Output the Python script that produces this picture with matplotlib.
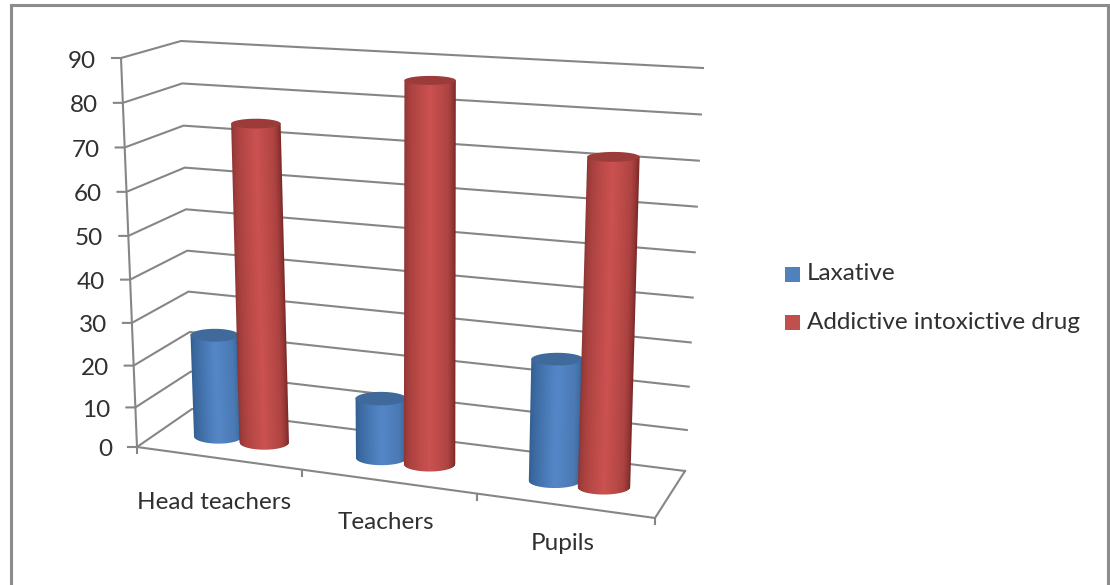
import matplotlib
matplotlib.use("Agg")
import matplotlib.pyplot as plt
from matplotlib.colors import LinearSegmentedColormap
import numpy as np

categories = ["Head teachers", "Teachers", "Pupils"]
series_names = ["Laxative", "Addictive intoxictive drug"]
laxative = [25, 14.5, 28]
addictive = [74.7, 86.5, 72.5]
y_ticks = [0, 10, 20, 30, 40, 50, 60, 70, 80, 90]

# screen position of the plot box corners (front/back, left/right, floor/top)
FLOOR_FL = np.array([137., 447.])
FLOOR_FR = np.array([655., 518.])
FLOOR_BL = np.array([192., 409.])
FLOOR_BR = np.array([685., 471.])
TOP_FL = np.array([121., 58.])
TOP_FR = np.array([675., 85.])
TOP_BL = np.array([181., 41.])
TOP_BR = np.array([703., 68.])
Y_MAX = 90.
GROUP_U = [0.166, 0.493, 0.829]

GRID = "#868686"
TEXT = "#303030"
FONT = "Lato"


def project(u, v, value):
    # trilinear map of the box to the screen, u and z warped a bit for perspective
    u = np.clip(u, 0, None) ** 1.04
    z = (value / Y_MAX) ** 1.04
    floor = (1-v)*((1-u)*FLOOR_FL + u*FLOOR_FR) + v*((1-u)*FLOOR_BL + u*FLOOR_BR)
    top = (1-v)*((1-u)*TOP_FL + u*TOP_FR) + v*((1-u)*TOP_BL + u*TOP_BR)
    return (1-z)*floor + z*top


fig = plt.figure(figsize=(11.1, 5.85), dpi=100)
ax = fig.add_axes([0, 0, 1, 1])
ax.axis("off")

# outer frame, runs off the bottom of the picture
ax.plot([11, 11, 1108, 1108], [590, 5, 5, 590], color="#8c8c8c", lw=2.2, solid_joinstyle="miter")

# walls
for val in y_ticks:
    a = project(0, 0, val)
    b = project(0, 1, val)
    c = project(1, 1, val)
    ax.plot([a[0]-9, a[0], b[0], c[0]], [a[1], a[1], b[1], c[1]], color=GRID, lw=1.5)
    ax.text(a[0]-25, a[1]+1, str(val), ha="right", va="center_baseline", fontsize=17.5, color=TEXT, family=FONT)

a = project(0, 0, 0)
b = project(0, 0, Y_MAX)
ax.plot([a[0], b[0]], [a[1], b[1]], color=GRID, lw=1.5)

# floor front and side edges, category ticks
a = project(0, 0, 0)
b = project(1, 0, 0)
c = project(1, 1, 0)
ax.plot([a[0], b[0], c[0]], [a[1], b[1], c[1]], color=GRID, lw=1.5)
for i in range(len(categories)+1):
    p = project(i/len(categories), 0, 0)
    ax.plot([p[0], p[0]], [p[1], p[1]+6], color=GRID, lw=1.5)

blue_map = LinearSegmentedColormap.from_list("b", ["#2f5a8c", "#3f6ea6", "#5587c8", "#4a79b3", "#2c5480"])
red_map = LinearSegmentedColormap.from_list("r", ["#873230", "#ad4341", "#cb5250", "#ad4341", "#692120"])


def cylinder(u, value, cmap, cap_color, order):
    radius = 0.05
    depth = 0.47
    left = project(u-radius, depth, 0)[0]
    right = project(u+radius, depth, 0)[0]
    base = project(u, depth, 0)
    top = project(u, depth, value)
    half_w = (right-left) / 2
    z = value / Y_MAX
    shift_top = top[0] - base[0] - 3*z
    base_h = 7.2
    top_h = 7.2 - 2.8*z

    # the side is painted pixel by pixel as an image, alpha gives soft edges
    x0 = int(min(base[0], base[0]+shift_top) - half_w - 3)
    x1 = int(max(base[0], base[0]+shift_top) + half_w + 3)
    y0 = int(top[1] - top_h - 3)
    y1 = int(base[1] + base_h + 3)
    px, py = np.meshgrid(np.arange(x0, x1)+0.5, np.arange(y0, y1)+0.5)
    frac = (base[1]-py) / (base[1]-top[1])
    cx = base[0] + shift_top*frac
    pos = (px-cx) / half_w
    inside = np.clip((1-np.abs(pos))*half_w + 0.5, 0, 1)
    sine = np.sqrt(np.clip(1-pos**2, 0, 1))
    bottom_edge = np.clip(base[1] + base_h*sine - py + 0.5, 0, 1)
    top_edge = np.clip(py - (top[1] + top_h*sine) + 1.5, 0, 1)
    rgba = cmap(np.arccos(np.clip(-pos, -1, 1)) / np.pi)
    rgba[..., 3] = inside * bottom_edge * top_edge
    ax.imshow(rgba, extent=(x0, x1, y1, y0), aspect="auto", interpolation="nearest", zorder=order)

    t = np.linspace(0, 2*np.pi, 80)
    ax.fill(base[0]+shift_top+half_w*np.cos(t), top[1]+top_h*np.sin(t), color=cap_color, lw=0, zorder=order+0.5)


offset = 0.047
n = len(categories)
for i in range(n):
    centre = (i+0.5)/n
    cylinder(GROUP_U[i]-offset, laxative[i], blue_map, "#3f6a9b", 5+2*i)
    cylinder(GROUP_U[i]+offset, addictive[i], red_map, "#9c3c3a", 6+2*i)
    p = project(centre, 0, 0)
    ax.text(p[0]-3, p[1]+46-10*centre, categories[i], ha="center", va="center", fontsize=17.5, color=TEXT, family=FONT)

# legend
legend_colors = ["#4f81bd", "#c0504d"]
legend_y = [274, 322.5]
for name, col, yy in zip(series_names, legend_colors, legend_y):
    ax.add_patch(plt.Rectangle((785, yy-7.5), 15, 15, color=col, lw=0))
    ax.text(807, yy, name, ha="left", va="center", fontsize=17.5, color=TEXT, family=FONT)

ax.set_xlim(0, 1110)
ax.set_ylim(585, 0)
fig.savefig("out.png", dpi=100)
